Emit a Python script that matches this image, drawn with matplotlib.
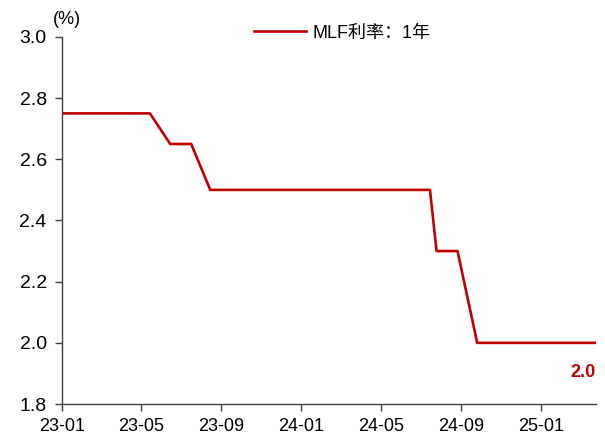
import matplotlib
matplotlib.use('Agg')
import matplotlib.pyplot as plt
import matplotlib.dates as mdates
import pandas as pd

plt.rcParams['font.family'] = ['Liberation Sans', 'Noto Sans CJK SC', 'DejaVu Sans']

# MLF 1Y rate on operation dates
DATES = ['2022-12-15', '2023-01-17', '2023-02-15', '2023-03-15', '2023-04-17',
         '2023-05-15', '2023-06-15', '2023-07-17', '2023-08-15', '2023-09-15',
         '2023-10-16', '2023-11-15', '2023-12-15', '2024-01-15', '2024-02-18',
         '2024-03-15', '2024-04-15', '2024-05-15', '2024-06-17', '2024-07-15',
         '2024-07-25', '2024-08-26', '2024-09-25', '2024-10-25', '2024-11-25',
         '2024-12-25', '2025-01-24', '2025-02-25', '2025-03-25']
RATES = [2.75, 2.75, 2.75, 2.75, 2.75,
         2.75, 2.65, 2.65, 2.50, 2.50,
         2.50, 2.50, 2.50, 2.50, 2.50,
         2.50, 2.50, 2.50, 2.50, 2.50,
         2.30, 2.30, 2.00, 2.00, 2.00,
         2.00, 2.00, 2.00, 2.00]
SERIES_LABEL = 'MLF利率：1年'

LINE_COLOR = '#C00000'
AXIS_COLOR = '#404040'

dates = pd.to_datetime(DATES)

fig = plt.figure(figsize=(6.05, 4.34), dpi=100)
ax = fig.add_axes([0.1025, 0.069, 0.8825, 0.846])

ax.plot(dates, RATES, color=LINE_COLOR, lw=1.9, label=SERIES_LABEL)

ax.set_xlim(pd.Timestamp('2023-01-01'), dates[-1])
ax.set_ylim(1.8, 3.0)
ax.set_yticks([1.8, 2.0, 2.2, 2.4, 2.6, 2.8, 3.0])
ax.yaxis.set_major_formatter(plt.FormatStrFormatter('%.1f'))
ax.xaxis.set_major_locator(mdates.MonthLocator(bymonth=[1, 5, 9]))
ax.xaxis.set_major_formatter(mdates.DateFormatter('%y-%m'))

for side in ['top', 'right']:
    ax.spines[side].set_visible(False)
for side in ['left', 'bottom']:
    ax.spines[side].set_color(AXIS_COLOR)
    ax.spines[side].set_linewidth(1.0)
ax.tick_params(axis='both', colors=AXIS_COLOR, labelcolor='black',
               length=5, width=1.0, direction='out')
ax.tick_params(axis='y', labelsize=14, pad=6)
ax.tick_params(axis='x', labelsize=13, pad=5)

ax.text(-0.018, 1.025, '(%)', transform=ax.transAxes, fontsize=13,
        ha='left', va='bottom')

ax.annotate(f'{RATES[-1]:.1f}', xy=(dates[-1], RATES[-1]), xytext=(0, -15),
            textcoords='offset points', ha='right', va='top',
            fontsize=13, fontweight='bold', color=LINE_COLOR)

ax.legend(loc='center', bbox_to_anchor=(0.525, 1.01), frameon=False,
          fontsize=13, handlelength=2.9, handletextpad=0.35, borderaxespad=0,
          borderpad=0)

fig.savefig('out.png', dpi=100)
